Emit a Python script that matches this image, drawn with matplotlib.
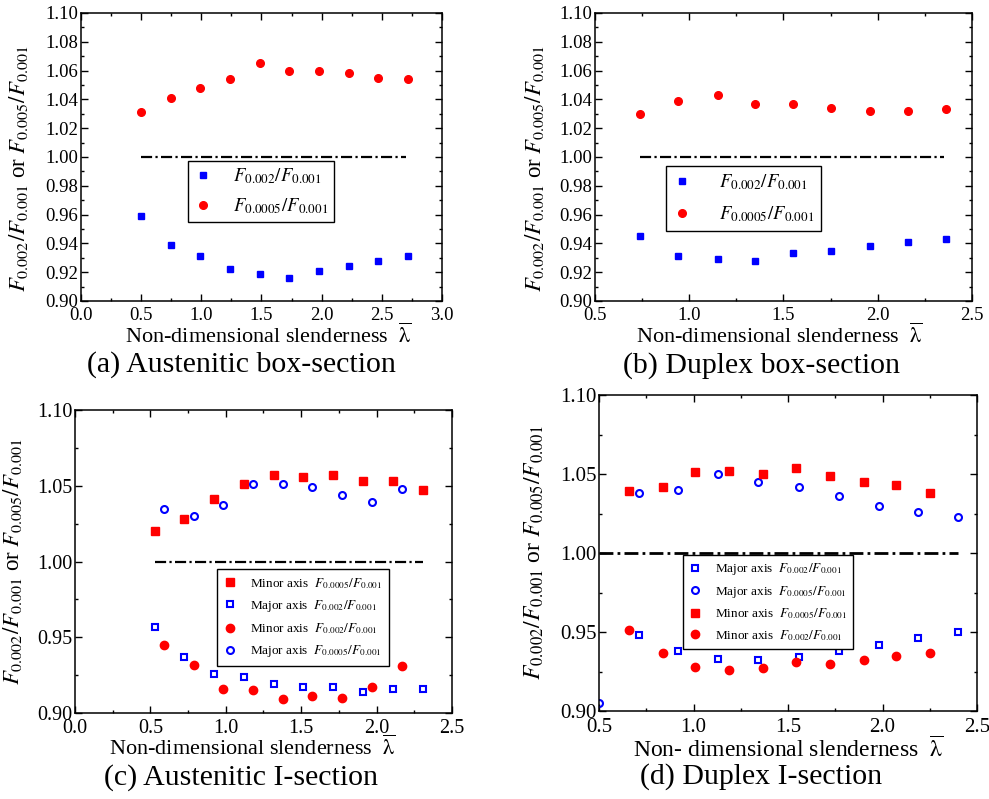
import matplotlib
matplotlib.use("Agg")
import matplotlib.pyplot as plt
from matplotlib.ticker import MultipleLocator

plt.rcParams['font.family'] = ['Liberation Serif', 'DejaVu Serif']
plt.rcParams['mathtext.fontset'] = 'stix'

# (a) Austenitic box-section
lam_a = [0.50, 0.75, 0.99, 1.24, 1.49, 1.73, 1.98, 2.23, 2.47, 2.72]
r002_a = [0.959, 0.939, 0.931, 0.922, 0.919, 0.916, 0.921, 0.924, 0.928, 0.931]
r0005_a = [1.031, 1.041, 1.048, 1.054, 1.065, 1.060, 1.060, 1.058, 1.055, 1.054]

# (b) Duplex box-section
lam_b = [0.74, 0.94, 1.15, 1.35, 1.55, 1.75, 1.96, 2.16, 2.36]
r002_b = [0.945, 0.931, 0.929, 0.928, 0.933, 0.935, 0.938, 0.941, 0.943]
r0005_b = [1.030, 1.039, 1.043, 1.037, 1.037, 1.034, 1.032, 1.032, 1.033]

# (c) Austenitic I-section
lam_c1 = [0.53, 0.72, 0.92, 1.12, 1.32, 1.51, 1.71, 1.91, 2.11, 2.31]
minor0005_c = [1.020, 1.028, 1.041, 1.051, 1.057, 1.056, 1.057, 1.053, 1.053, 1.047]
major002_c = [0.957, 0.937, 0.926, 0.924, 0.919, 0.917, 0.917, 0.914, 0.916, 0.916]
lam_c2 = [0.59, 0.79, 0.98, 1.18, 1.38, 1.57, 1.77, 1.97, 2.17]
major0005_c = [1.035, 1.030, 1.037, 1.051, 1.051, 1.049, 1.044, 1.039, 1.048]
minor002_c = [0.945, 0.932, 0.916, 0.915, 0.909, 0.911, 0.910, 0.917, 0.931]

# (d) Duplex I-section
lam_d1 = [0.66, 0.84, 1.01, 1.19, 1.37, 1.54, 1.72, 1.90, 2.07, 2.25]
minor0005_d = [1.039, 1.042, 1.051, 1.052, 1.050, 1.054, 1.049, 1.045, 1.043, 1.038]
minor002_d = [0.951, 0.937, 0.928, 0.926, 0.927, 0.931, 0.930, 0.932, 0.935, 0.937]
lam_d2 = [0.71, 0.92, 1.13, 1.34, 1.56, 1.77, 1.98, 2.19, 2.40]
major002_d = [0.948, 0.938, 0.933, 0.932, 0.934, 0.938, 0.942, 0.946, 0.950]
lam_d3 = [0.50, 0.71, 0.92, 1.13, 1.34, 1.56, 1.77, 1.98, 2.19, 2.40]
major0005_d = [0.905, 1.038, 1.040, 1.050, 1.045, 1.042, 1.036, 1.030, 1.026, 1.023]

RED = '#ff0000'
BLUE = '#0000ff'
YLABEL = r'$F_{0.002}/F_{0.001}$ or $F_{0.005}/F_{0.001}$'
XLABEL = r'Non-dimensional slenderness  $\overline{\mathrm{\lambda}}$'

fig = plt.figure(figsize=(9.89, 7.99), dpi=100)


def style_axes(ax, xlim, xmaj, ymaj, tick_fs):
    ax.set_xlim(*xlim)
    ax.set_ylim(0.90, 1.10)
    ax.xaxis.set_major_locator(MultipleLocator(xmaj))
    ax.xaxis.set_minor_locator(MultipleLocator(xmaj / 2))
    ax.yaxis.set_major_locator(MultipleLocator(ymaj))
    ax.yaxis.set_minor_locator(MultipleLocator(ymaj / 2))
    ax.tick_params(which='both', direction='in', top=True, right=True,
                   labelsize=tick_fs, width=1.0, pad=2)
    ax.tick_params(axis='x', pad=4)
    ax.tick_params(which='major', length=5)
    ax.tick_params(which='minor', length=2.5)
    for s in ax.spines.values():
        s.set_linewidth(1.1)


# ---- (a)
ax = fig.add_axes([0.0819, 0.6233, 0.365, 0.3605])
ax.plot(lam_a, r002_a, 's', color=BLUE, ms=5, label=r'$F_{0.002}/F_{0.001}$')
ax.plot(lam_a, r0005_a, 'o', color=RED, ms=5.5, label=r'$F_{0.0005}/F_{0.001}$')
ax.plot([0.5, 2.7], [1.0, 1.0], color='k', lw=1.6, ls=(0, (5, 1.5, 1, 1.5)))
style_axes(ax, (0, 3.0), 0.5, 0.02, 13.5)
ax.set_xlabel(XLABEL, fontsize=16)
ax.xaxis.set_label_coords(0.52, -0.078)
ax.set_ylabel(YLABEL, fontsize=16.5)
ax.yaxis.set_label_coords(-0.14, 0.46)
ax.legend(loc='upper left', bbox_to_anchor=(0.297, 0.487), borderaxespad=0,
          fontsize=13.5, fancybox=False, edgecolor='k', framealpha=1,
          handlelength=1.0, handletextpad=1.1, labelspacing=0.55, borderpad=0.3)

# ---- (b)
ax = fig.add_axes([0.6016, 0.6233, 0.3812, 0.3605])
ax.plot(lam_b, r002_b, 's', color=BLUE, ms=5, label=r'$F_{0.002}/F_{0.001}$')
ax.plot(lam_b, r0005_b, 'o', color=RED, ms=5.5, label=r'$F_{0.0005}/F_{0.001}$')
ax.plot([0.74, 2.35], [1.0, 1.0], color='k', lw=1.6, ls=(0, (5, 1.5, 1, 1.5)))
style_axes(ax, (0.5, 2.5), 0.5, 0.02, 13.5)
ax.set_xlabel(XLABEL, fontsize=16)
ax.xaxis.set_label_coords(0.49, -0.078)
ax.set_ylabel(YLABEL, fontsize=16.5)
ax.yaxis.set_label_coords(-0.13, 0.46)
ax.legend(loc='upper left', bbox_to_anchor=(0.1875, 0.469), borderaxespad=0,
          fontsize=13.5, fancybox=False, edgecolor='k', framealpha=1,
          handlelength=1.0, handletextpad=1.5, labelspacing=0.65, borderpad=0.35)

# ---- (c)
ax = fig.add_axes([0.0758, 0.1076, 0.3812, 0.3792])
ax.plot(lam_c1, minor0005_c, 's', color=RED, ms=5.5, label=r'Minor axis  $F_{0.0005}/F_{0.001}$')
ax.plot(lam_c1, major002_c, 's', color=BLUE, mfc='none', mew=1.5, ms=4.5,
        label=r'Major axis  $F_{0.002}/F_{0.001}$')
ax.plot(lam_c2, minor002_c, 'o', color=RED, ms=6, label=r'Minor axis  $F_{0.002}/F_{0.001}$')
ax.plot(lam_c2, major0005_c, 'o', color=BLUE, mfc='none', mew=1.5, ms=5,
        label=r'Major axis  $F_{0.0005}/F_{0.001}$')
ax.plot([0.53, 2.31], [1.0, 1.0], color='k', lw=1.6, ls=(0, (5, 1.5, 1, 1.5)))
style_axes(ax, (0, 2.5), 0.5, 0.05, 14.5)
ax.set_xlabel(XLABEL, fontsize=16)
ax.xaxis.set_label_coords(0.47, -0.075)
ax.set_ylabel(YLABEL, fontsize=16.5)
ax.yaxis.set_label_coords(-0.135, 0.5)
ax.legend(loc='upper left', bbox_to_anchor=(0.377, 0.474), borderaxespad=0,
          fontsize=9.5, fancybox=False, edgecolor='k', framealpha=1,
          handlelength=1.0, handletextpad=1.0, labelspacing=0.55, borderpad=0.5)

# ---- (d)
ax = fig.add_axes([0.6057, 0.1101, 0.3822, 0.3955])
ax.plot(lam_d2, major002_d, 's', color=BLUE, mfc='none', mew=1.5, ms=4.5,
        label=r'Major axis  $F_{0.002}/F_{0.001}$')
ax.plot(lam_d3, major0005_d, 'o', color=BLUE, mfc='none', mew=1.5, ms=5,
        label=r'Major axis  $F_{0.0005}/F_{0.001}$')
ax.plot(lam_d1, minor0005_d, 's', color=RED, ms=5.5, label=r'Minor axis  $F_{0.0005}/F_{0.001}$')
ax.plot(lam_d1, minor002_d, 'o', color=RED, ms=6, label=r'Minor axis  $F_{0.002}/F_{0.001}$')
ax.plot([0.5, 2.40], [1.0, 1.0], color='k', lw=2.0, ls=(0, (5, 1.5, 1, 1.5)))
style_axes(ax, (0.5, 2.5), 0.5, 0.05, 15)
ax.tick_params(axis='x', pad=5)
ax.set_xlabel(r'Non- dimensional slenderness  $\overline{\mathrm{\lambda}}$', fontsize=17)
ax.xaxis.set_label_coords(0.5, -0.078)
ax.set_ylabel(YLABEL, fontsize=17)
ax.yaxis.set_label_coords(-0.14, 0.5)
ax.legend(loc='upper left', bbox_to_anchor=(0.221, 0.4927), borderaxespad=0,
          fontsize=9.5, fancybox=False, edgecolor='k', framealpha=1,
          handlelength=1.0, handletextpad=1.0, labelspacing=0.5, borderpad=0.45)

# captions
fig.text(0.2437, 0.5432, '(a) Austenitic box-section', fontsize=21.5, ha='center', va='center')
fig.text(0.7695, 0.5419, '(b) Duplex box-section', fontsize=21.5, ha='center', va='center')
fig.text(0.2437, 0.0263, '(c) Austenitic I-section', fontsize=21.5, ha='center', va='center')
fig.text(0.7695, 0.0275, '(d) Duplex I-section', fontsize=21.5, ha='center', va='center')

fig.savefig('out.png', dpi=100)
